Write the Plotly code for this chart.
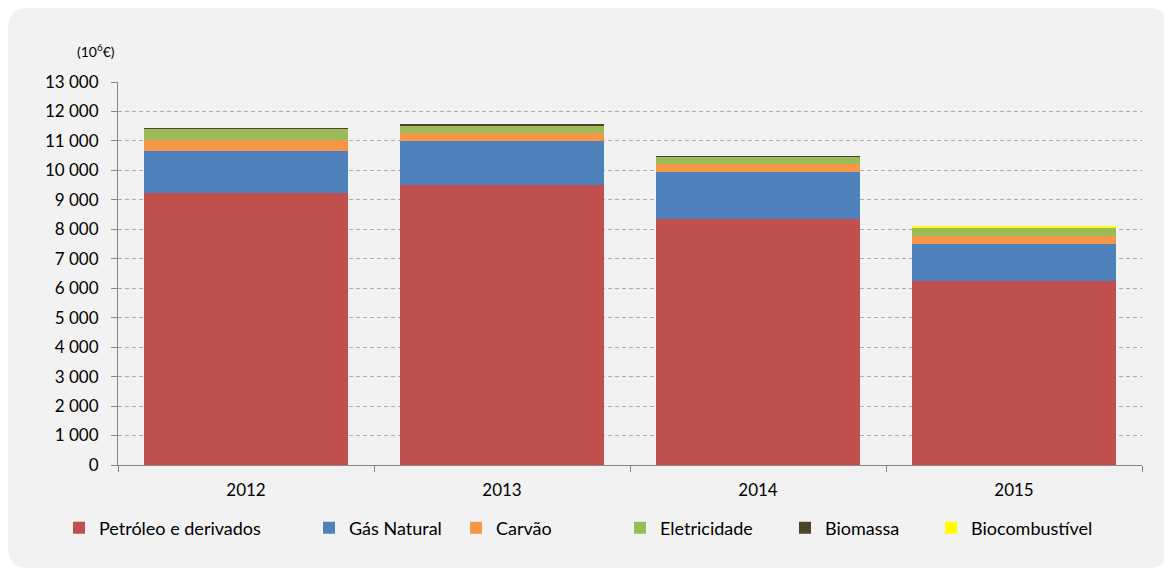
import plotly.graph_objects as go

years = ["2012", "2013", "2014", "2015"]
petroleo = [9220, 9490, 8350, 6250]
gas_natural = [1440, 1510, 1610, 1240]
carvao = [370, 260, 270, 290]
eletricidade = [400, 280, 240, 270]
biomassa = [5, 5, 5, 5]
biocombustivel = [0, 0, 0, 55]

series_names = ["Petróleo e derivados", "Gás Natural", "Carvão", "Eletricidade", "Biomassa", "Biocombustível"]
series_values = [petroleo, gas_natural, carvao, eletricidade, biomassa, biocombustivel]
colors = ["#C0504D", "#4F81BD", "#F79646", "#9BBB59", "#4A452A", "#FFFF00"]
y_ticks = list(range(0, 13001, 1000))

FONT = "Lato"
OFF = 8  # browser body margin
W, H = 1172 - OFF, 568 - OFF
# plot area in screenshot pixels
SL, SR, ST, SB = 118, 1142, 82, 465
L, R, T, B = SL - OFF, SR - OFF, ST - OFF, SB - OFF

def px(x):  # screenshot x -> paper
    return (x - SL) / (SR - SL)

def py(y):  # screenshot y -> paper
    return (SB - y) / (SB - ST)

fig = go.Figure()
legend_x_px = [72, 322, 469, 633, 798, 944]
for i, (name, vals, col) in enumerate(zip(series_names, series_values, colors)):
    lg = "legend" if i == 0 else f"legend{i+1}"
    fig.add_trace(go.Bar(
        x=years, y=vals, name=name, marker=dict(color=col, line=dict(width=0)),
        legend=lg,
    ))

layout_legends = {}
for i, lx in enumerate(legend_x_px):
    key = "legend" if i == 0 else f"legend{i+1}"
    layout_legends[key] = dict(
        x=px(lx - 13), y=py(528), xref="paper", yref="paper",
        xanchor="left", yanchor="middle", orientation="h",
        bgcolor="rgba(0,0,0,0)", font=dict(family=FONT, size=18, color="#000000"),
        itemwidth=30, tracegroupgap=0,
    )

# rounded background container path (screenshot pixels -> paper)
x0, x1, y0, y1, r = 8, 1170, 8, 568, 22
path = (
    f"M {px(x0+r)},{py(y0)} L {px(x1-r)},{py(y0)} Q {px(x1)},{py(y0)} {px(x1)},{py(y0+r)} "
    f"L {px(x1)},{py(y1-r)} Q {px(x1)},{py(y1)} {px(x1-r)},{py(y1)} "
    f"L {px(x0+r)},{py(y1)} Q {px(x0)},{py(y1)} {px(x0)},{py(y1-r)} "
    f"L {px(x0)},{py(y0+r)} Q {px(x0)},{py(y0)} {px(x0+r)},{py(y0)} Z"
)

fig.update_layout(
    width=W, height=H,
    barmode="stack", bargap=0.2,
    paper_bgcolor="#FFFFFF", plot_bgcolor="rgba(0,0,0,0)",
    margin=dict(l=L, r=W - R, t=T, b=H - B, pad=0),
    separators=", ",
    font=dict(family=FONT, size=17, color="#000000"),
    showlegend=True,
    shapes=[dict(type="path", path=path, xref="paper", yref="paper",
                 fillcolor="#F2F2F2", line=dict(width=0), layer="below")],
    annotations=[dict(text="(10<sup>6</sup>€)", x=px(96), y=py(50), xref="paper", yref="paper",
                      showarrow=False, font=dict(family=FONT, size=14, color="#000000"),
                      xanchor="center", yanchor="middle")],
    **layout_legends,
)

fig.update_xaxes(
    type="category", showline=True, linecolor="#868686", linewidth=1,
    ticks="outside", tickson="boundaries", ticklen=6, tickcolor="#868686",
    showgrid=False, tickfont=dict(family=FONT, size=17, color="#000000"),
    ticklabelstandoff=10,
)
fig.update_yaxes(
    range=[0, 13000], tickvals=y_ticks, tickformat=",d",
    showline=True, linecolor="#868686", linewidth=1,
    ticks="outside", ticklen=6, tickcolor="#868686",
    showgrid=True, gridcolor="#ABABAB", griddash="4px,3px", gridwidth=1,
    zeroline=False, tickfont=dict(family=FONT, size=17, color="#000000"),
    ticklabelstandoff=9,
)

fig.write_html("out.html")
